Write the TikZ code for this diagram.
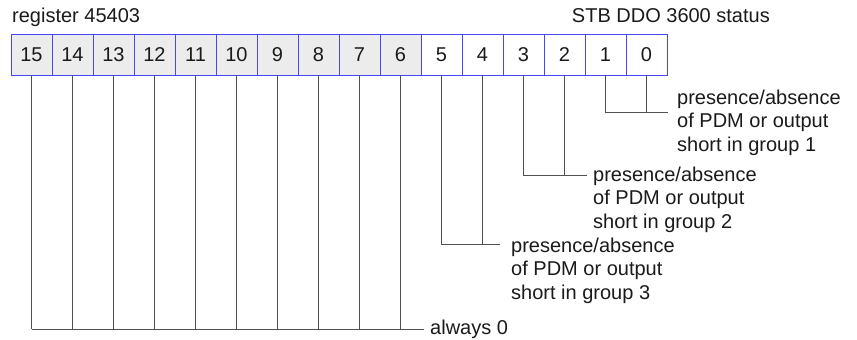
\documentclass[tikz,border=0pt]{standalone}
\usepackage{fontspec}
\setmainfont{Liberation Sans}
\usepackage{tikz}
\usetikzlibrary{positioning,calc}
\definecolor{ink}     {HTML}{1A1A1A}
\definecolor{wireink} {HTML}{505050}
\definecolor{cellblue}{HTML}{4646F5}
\definecolor{cellgray}{HTML}{ECECEC}
\tikzset{
  every node/.style={font=\fontsize{20}{23.5}\selectfont, text=ink},
  % --- nodes
  bit/.style   = {draw=cellblue, fill=white, line width=0.9pt, minimum width=41pt,
                  minimum height=41pt, inner sep=0pt, outer sep=0pt},
  bitoff/.style= {bit, fill=cellgray},
  note/.style  = {align=left, inner sep=0pt, anchor=base west},
  % --- edges
  wire/.style  = {draw=wireink, line width=0.8pt},
}
\begin{document}
\begin{tikzpicture}[x=1pt,y=1pt]
  \useasboundingbox (0,0) rectangle (857,-340);

  \node[note] (reg) at (12,-22.5) {register 45403};
  \node[note, anchor=base east] (stb) at (770,-22.5) {STB DDO 3600 status};

  % --- the sixteen bits, 15 on the left
  \foreach \i in {15,...,6}
    \node[bitoff] (b\i) at ({31.5+(15-\i)*41},-54.5) {\i};
  \foreach \i in {5,...,0}
    \node[bit] (b\i) at ({31.5+(15-\i)*41},-54.5) {\i};

  % --- groups of two bits (base = last line)
  \coordinate (j1) at (668,-112);
  \coordinate (j2) at (587,-175);
  \coordinate (j3) at (500,-244);
  \node[note] (g1) at (677,-151) {presence/absence\\of PDM or output\\short in group 1};
  \node[note] (g2) at (593,-228) {presence/absence\\of PDM or output\\short in group 2};
  \node[note] (g3) at (511,-299) {presence/absence\\of PDM or output\\short in group 3};
  \foreach \hi/\lo/\k in {1/0/1,3/2/2,5/4/3} {
    \draw[wire] (b\hi.south) |- (j\k);
    \draw[wire] (b\lo.south) -- (b\lo.south |- j\k);
  }

  % --- reserved bits
  \coordinate (j0) at (424,-329);
  \node[note] (zero) at (430,-334) {always 0};
  \foreach \i in {15,...,6} \draw[wire] (b\i.south) -- (b\i.south |- j0);
  \draw[wire] (b15.south |- j0) -- (j0);
\end{tikzpicture}
\end{document}
